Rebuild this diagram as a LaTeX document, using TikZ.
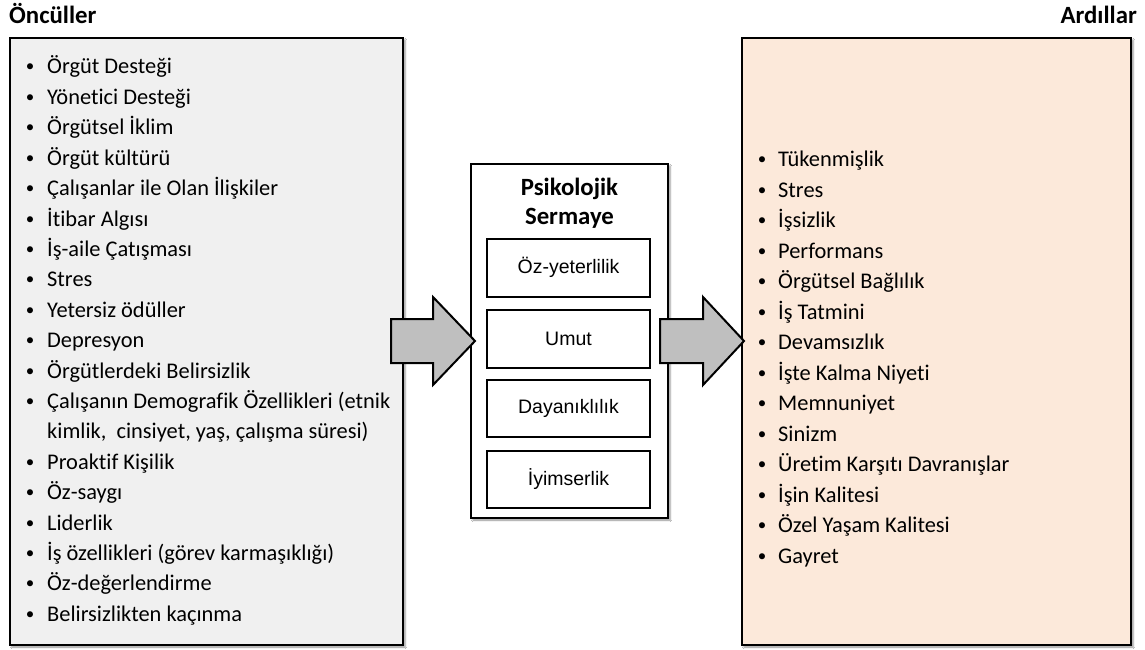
\documentclass[tikz,border=0pt]{standalone}
\usepackage{fontspec}
\setmainfont{Carlito}[Ligatures={NoCommon,NoContextual}]
\newfontfamily\arialfont{Liberation Sans}
\usetikzlibrary{shadows.blur}
\definecolor{leftfill}{HTML}{F0F0F0}
\definecolor{rightfill}{HTML}{FCE9DA}
\definecolor{arrowfill}{HTML}{BFBFBF}
\begin{document}
\begin{tikzpicture}[x=1pt,y=-1pt,
  panel/.style={draw=black, line width=2pt, rectangle, inner sep=0pt,
    blur shadow={shadow xshift=2pt, shadow yshift=-2pt, shadow blur steps=4, shadow opacity=45}},
  dimbox/.style={draw=black, line width=2pt, fill=white, rectangle, inner sep=0pt,
    minimum width=163pt, minimum height=58pt, font=\arialfont\fontsize{19.5}{22}\selectfont},
  blockarrow/.style={draw=black, line width=2pt, fill=arrowfill, line join=miter},
  heading/.style={font=\bfseries\fontsize{24.8}{28}\selectfont, inner sep=0pt},
  bul/.style={anchor=base, inner sep=0pt, font=\fontsize{17}{20}\selectfont},
  item/.style={anchor=base west, inner sep=0pt, font=\fontsize{22.4}{26}\selectfont}
]
\useasboundingbox (0,0) rectangle (1145,650);
\fill[white] (0,0) rectangle (1145,650);

% headings
\node[heading, anchor=base west] (antTitle) at (9,24) {Öncüller};
\node[heading, anchor=base east] (outTitle) at (1137,24) {Ardıllar};

% three panels
\node[panel, fill=leftfill, minimum width=393pt, minimum height=607pt] (antBox) at (206.5,341.5) {};
\node[panel, fill=rightfill, minimum width=389pt, minimum height=607pt] (outBox) at (936.5,341.5) {};
\node[panel, fill=white, minimum width=197pt, minimum height=354pt] (capBox) at (569.5,341) {};

% psychological capital title and components
\node[heading, anchor=base] (capT1) at (569.5,195) {Psikolojik};
\node[heading, anchor=base] (capT2) at (569.5,224) {Sermaye};
\node[dimbox] (dimA) at (568.5,267.5) {Öz-yeterlilik};
\node[dimbox] (dimB) at (568.5,338.5) {Umut};
\node[dimbox, minimum height=57pt] (dimC) at (568.5,408.5) {Dayanıklılık};
\node[dimbox, minimum height=57pt] (dimD) at (568.5,479.5) {İyimserlik};

% block arrows between the panels
\draw[blockarrow] (391,319) -- (433,319) -- (433,297) -- (475,341)
  -- (433,385) -- (433,363) -- (391,363) -- cycle;
\draw[blockarrow] (660,319) -- (703,319) -- (703,297) -- (744,341)
  -- (703,385) -- (703,363) -- (660,363) -- cycle;

% antecedents
\foreach \t/\k in {Örgüt Desteği/0, Yönetici Desteği/1, Örgütsel İklim/2,
    Örgüt kültürü/3, Çalışanlar ile Olan İlişkiler/4, İtibar Algısı/5,
    İş-aile Çatışması/6, Stres/7, Yetersiz ödüller/8, Depresyon/9,
    Örgütlerdeki Belirsizlik/10, Çalışanın Demografik Özellikleri (etnik/11,
    Proaktif Kişilik/13, Öz-saygı/14, Liderlik/15,
    İş özellikleri (görev karmaşıklığı)/16, Öz-değerlendirme/17,
    Belirsizlikten kaçınma/18}{
  \node[bul] (antB\k) at (30,72+30.4*\k) {•};
  \node[item] (antI\k) at (47,74+30.4*\k) {\t};
}
\node[item] (antI12) at (47,74+30.4*12) {kimlik,\ \ cinsiyet, yaş, çalışma süresi)};

% consequences
\foreach \t [count=\i from 0] in {Tükenmişlik, Stres, İşsizlik, Performans,
    Örgütsel Bağlılık, İş Tatmini, Devamsızlık, İşte Kalma Niyeti, Memnuniyet,
    Sinizm, Üretim Karşıtı Davranışlar, İşin Kalitesi, Özel Yaşam Kalitesi, Gayret}{
  \node[bul] (outB\i) at (762,164.7+30.5*\i) {•};
  \node[item] (outI\i) at (778,166.7+30.5*\i) {\t};
}
\end{tikzpicture}
\end{document}
